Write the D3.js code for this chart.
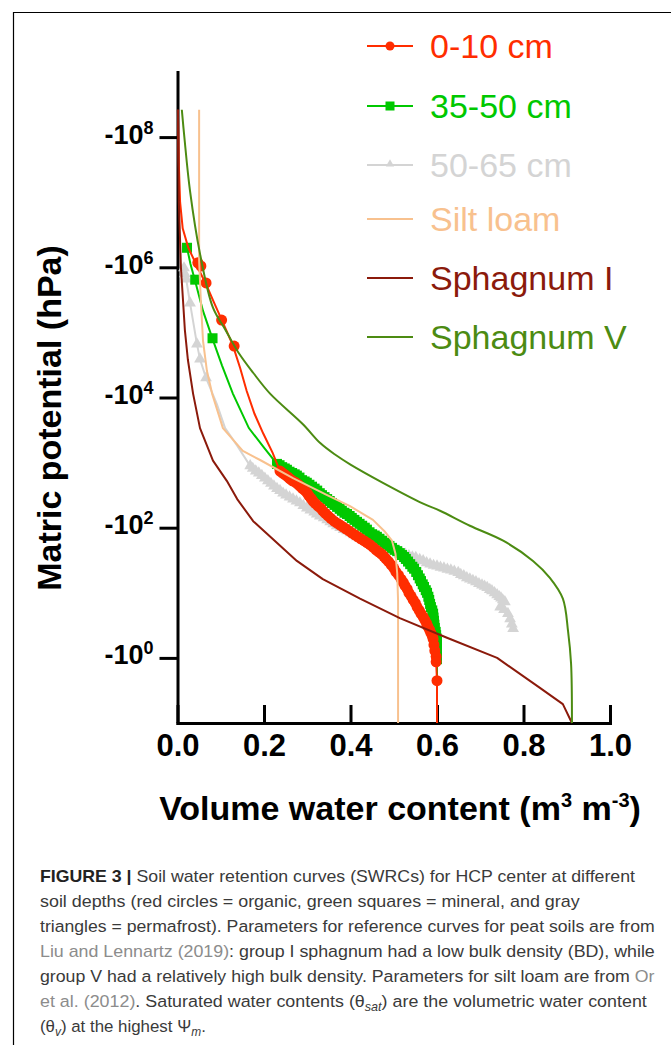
<!DOCTYPE html>
<html>
<head>
<meta charset="utf-8">
<script src="https://cdn.jsdelivr.net/npm/d3@7"></script>
<style>
  body { margin: 0; background: #fff; }
  svg { display: block; }
  text { font-family: "Liberation Sans", Arial, Helvetica, sans-serif; }
</style>
</head>
<body>
<svg id="chart" width="671" height="1045"></svg>
<script>
// values: [theta (m3 m-3), pF = log10 of suction in hPa]
const sphagnumI = [[0.001,8.42],[0.003,7.02],[0.008,5.99],[0.017,5.04],[0.024,4.58],[0.036,4.06],[0.052,3.53],[0.082,3.03],[0.114,2.72],[0.138,2.44],[0.175,2.10],[0.276,1.49],[0.336,1.21],[0.422,0.91],[0.514,0.61],[0.623,0.31],[0.739,0.00],[0.838,-0.46],[0.891,-0.71],[0.912,-1.00]];
const sphagnumV = [[0.010,8.42],[0.016,7.99],[0.029,7.17],[0.052,6.21],[0.082,5.38],[0.110,5.05],[0.140,4.70],[0.175,4.38],[0.214,4.06],[0.290,3.59],[0.330,3.30],[0.365,3.12],[0.400,2.97],[0.475,2.69],[0.568,2.37],[0.607,2.26],[0.676,2.03],[0.753,1.80],[0.822,1.49],[0.861,1.23],[0.891,0.91],[0.903,0.41],[0.910,-0.09],[0.912,-1.00]];
const siltLoam = [[0.050,8.42],[0.050,6.10],[0.054,5.48],[0.059,4.87],[0.068,4.41],[0.080,4.06],[0.105,3.53],[0.151,3.18],[0.191,3.04],[0.267,2.76],[0.346,2.50],[0.399,2.33],[0.452,2.12],[0.478,1.95],[0.496,1.80],[0.504,1.60],[0.508,1.30],[0.510,0.88],[0.510,-1.00]];

// 0-10 cm (organic)
const redFit = [[0.001,8.42],[0.003,7.60],[0.006,7.00],[0.012,6.60],[0.025,6.30],[0.045,6.02],[0.066,5.74],[0.085,5.45],[0.103,5.18],[0.128,4.80],[0.145,4.45],[0.160,4.10],[0.178,3.75],[0.198,3.45],[0.220,3.15],[0.237,2.87]];
const redTop = [[0.047,6.07],[0.054,6.02],[0.066,5.76],[0.102,5.19],[0.131,4.79]];
const redBand = [[0.237,2.87],[0.243,2.84],[0.249,2.81],[0.255,2.78],[0.260,2.75],[0.266,2.72],[0.272,2.70],[0.278,2.67],[0.283,2.64],[0.289,2.60],[0.295,2.57],[0.300,2.53],[0.304,2.49],[0.309,2.45],[0.313,2.41],[0.319,2.37],[0.325,2.33],[0.331,2.30],[0.336,2.26],[0.342,2.22],[0.348,2.18],[0.355,2.14],[0.362,2.10],[0.369,2.07],[0.376,2.04],[0.383,2.01],[0.390,1.98],[0.397,1.95],[0.403,1.92],[0.410,1.89],[0.417,1.86],[0.424,1.83],[0.431,1.80],[0.438,1.77],[0.445,1.74],[0.452,1.70],[0.459,1.66],[0.465,1.63],[0.471,1.60],[0.477,1.56],[0.482,1.52],[0.488,1.48],[0.494,1.43],[0.500,1.38],[0.505,1.32],[0.511,1.27],[0.517,1.21],[0.522,1.16],[0.526,1.11],[0.531,1.06],[0.535,1.00],[0.540,0.95],[0.545,0.89],[0.550,0.84],[0.554,0.78],[0.559,0.73],[0.563,0.68],[0.568,0.63],[0.572,0.58],[0.576,0.53],[0.579,0.48],[0.583,0.43],[0.586,0.38],[0.589,0.34],[0.591,0.29],[0.593,0.20],[0.595,0.11],[0.598,0.02],[0.598,-0.06],[0.600,-0.35]];
const redEnd = [[0.600,-1.00]];

// 35-50 cm (mineral)
const greenFit = [[0.022,6.30],[0.030,6.05],[0.040,5.81],[0.059,5.33],[0.080,4.92],[0.103,4.49],[0.128,4.06],[0.165,3.53],[0.200,3.23],[0.230,2.98]];
const greenTop = [[0.022,6.30],[0.041,5.81],[0.081,4.91]];
const greenBand = [[0.230,2.98],[0.236,2.96],[0.242,2.93],[0.248,2.91],[0.253,2.89],[0.259,2.86],[0.265,2.84],[0.271,2.82],[0.276,2.80],[0.282,2.77],[0.288,2.73],[0.294,2.71],[0.299,2.69],[0.305,2.66],[0.311,2.63],[0.317,2.60],[0.323,2.57],[0.329,2.53],[0.334,2.50],[0.340,2.47],[0.346,2.44],[0.352,2.41],[0.357,2.38],[0.363,2.35],[0.369,2.32],[0.375,2.29],[0.380,2.26],[0.386,2.23],[0.392,2.21],[0.398,2.18],[0.403,2.15],[0.409,2.12],[0.415,2.09],[0.421,2.06],[0.427,2.03],[0.433,2.00],[0.438,1.97],[0.444,1.93],[0.450,1.90],[0.456,1.88],[0.461,1.86],[0.467,1.83],[0.473,1.80],[0.479,1.77],[0.484,1.75],[0.490,1.72],[0.496,1.69],[0.502,1.66],[0.508,1.64],[0.514,1.61],[0.519,1.58],[0.524,1.55],[0.528,1.52],[0.533,1.48],[0.538,1.44],[0.543,1.40],[0.547,1.37],[0.552,1.32],[0.556,1.27],[0.560,1.22],[0.563,1.18],[0.567,1.13],[0.570,1.09],[0.574,1.04],[0.577,1.00],[0.580,0.94],[0.582,0.89],[0.584,0.83],[0.586,0.78],[0.589,0.73],[0.591,0.68],[0.592,0.62],[0.593,0.57],[0.594,0.51],[0.595,0.46],[0.597,0.40],[0.598,0.35],[0.599,0.30],[0.600,0.25],[0.600,0.19],[0.600,0.14],[0.600,0.06],[0.600,-0.02]];
const greenEnd = [[0.600,-1.00]];

// 50-65 cm (permafrost)
const grayTop = [[0.015,5.99],[0.017,5.90],[0.020,5.82],[0.029,5.45],[0.045,4.82],[0.052,4.59],[0.066,4.30]];
const grayFit = [[0.091,3.90],[0.110,3.53],[0.138,3.26]];
const grayBand = [[0.168,2.95],[0.174,2.91],[0.181,2.87],[0.188,2.84],[0.195,2.80],[0.202,2.76],[0.209,2.72],[0.216,2.68],[0.223,2.64],[0.230,2.60],[0.237,2.57],[0.244,2.53],[0.251,2.50],[0.259,2.47],[0.267,2.44],[0.275,2.41],[0.283,2.38],[0.291,2.34],[0.299,2.30],[0.307,2.27],[0.316,2.24],[0.322,2.21],[0.329,2.18],[0.338,2.15],[0.346,2.12],[0.353,2.09],[0.360,2.06],[0.368,2.03],[0.376,2.00],[0.384,1.97],[0.392,1.95],[0.400,1.92],[0.408,1.89],[0.415,1.86],[0.422,1.84],[0.430,1.82],[0.438,1.80],[0.446,1.77],[0.454,1.75],[0.462,1.73],[0.471,1.71],[0.479,1.69],[0.487,1.67],[0.495,1.65],[0.503,1.64],[0.511,1.62],[0.519,1.61],[0.527,1.59],[0.535,1.57],[0.543,1.55],[0.551,1.54],[0.560,1.51],[0.568,1.49],[0.576,1.46],[0.584,1.44],[0.592,1.42],[0.600,1.41],[0.608,1.39],[0.616,1.38],[0.624,1.36],[0.632,1.35],[0.640,1.33],[0.649,1.31],[0.655,1.28],[0.662,1.26],[0.669,1.23],[0.676,1.21],[0.683,1.19],[0.690,1.17],[0.697,1.14],[0.704,1.12],[0.710,1.10],[0.716,1.08],[0.722,1.05],[0.727,1.03],[0.733,1.00],[0.739,0.97],[0.744,0.94],[0.748,0.92],[0.752,0.89],[0.757,0.86],[0.746,0.78],[0.755,0.74],[0.764,0.68],[0.769,0.60],[0.773,0.52],[0.776,0.45]];

const xTicks = [0, 0.2, 0.4, 0.6, 0.8, 1.0];
const yTicks = [0, 2, 4, 6, 8];
const legendLabels = ['0-10 cm', '35-50 cm', '50-65 cm', 'Silt loam', 'Sphagnum I', 'Sphagnum V'];

// styles
const cRed = '#ff2d00', cGreen = '#00c800', cGray = '#d4d4d4',
      cSilt = '#f8c18e', cSphI = '#8b1a0b', cSphV = '#4c8b12';
const legendColors = [cRed, cGreen, cGray, cSilt, cSphI, cSphV];
const legendMarks = ['circle', 'square', 'triangle', null, null, null];

const svg = d3.select('#chart');

// page frame
svg.append('path').attr('d', 'M13.5,1045V12.5H671')
  .attr('fill', 'none').attr('stroke', '#000').attr('stroke-width', 1.2);

const x = d3.scaleLinear().domain([0, 1]).range([177.5, 610]);
const y = d3.scaleLinear().domain([-1, 9]).range([723, 72]);
const line = d3.line().x(d => x(d[0])).y(d => y(d[1]));
const smooth = d3.line().x(d => x(d[0])).y(d => y(d[1])).curve(d3.curveCatmullRom.alpha(0.5));

// axes
const gx = svg.append('g').attr('transform', `translate(0,${y(-1)})`)
  .call(d3.axisBottom(x).tickValues(xTicks).tickSizeInner(-18).tickSizeOuter(0)
    .tickPadding(11).tickFormat(d3.format('.1f')));
const gy = svg.append('g').attr('transform', `translate(${x(0)},0)`)
  .call(d3.axisLeft(y).tickValues(yTicks).tickSize(18).tickSizeOuter(0)
    .tickPadding(6).tickFormat(''));

[gx, gy].forEach(g => {
  g.select('.domain').attr('stroke-width', 3).attr('stroke-linecap', 'square');
  g.selectAll('.tick line').attr('stroke-width', 3);
  g.attr('font-family', null).attr('font-size', null);
});
gx.selectAll('.tick text').attr('font-size', 31).attr('font-weight', 'bold').attr('fill', '#000');
gy.selectAll('.tick text').attr('font-weight', 'bold').attr('fill', '#000').attr('dy', '0.38em')
  .each(function (d) {
    const t = d3.select(this);
    t.append('tspan').attr('font-size', 27).text('-10');
    t.append('tspan').attr('font-size', 18).attr('dy', -10).text(d);
  });

// 50-65 cm
svg.append('path').attr('d', line(grayTop.concat(grayFit, grayBand)))
  .attr('fill', 'none').attr('stroke', cGray).attr('stroke-width', 2).attr('stroke-linejoin', 'round');
svg.append('g').selectAll('path').data(grayTop.concat(grayBand)).join('path')
  .attr('d', d3.symbol(d3.symbolTriangle, 60))
  .attr('transform', d => `translate(${x(d[0])},${y(d[1])})`)
  .attr('fill', cGray);

// 35-50 cm
svg.append('path').attr('d', line(greenFit.concat(greenBand, greenEnd)))
  .attr('fill', 'none').attr('stroke', cGreen).attr('stroke-width', 2);
svg.append('g').selectAll('rect').data(greenTop.concat(greenBand)).join('rect')
  .attr('x', d => x(d[0]) - 5).attr('y', d => y(d[1]) - 5)
  .attr('width', 10).attr('height', 10).attr('fill', cGreen);

// 0-10 cm
svg.append('path').attr('d', line(redFit.concat(redBand, redEnd)))
  .attr('fill', 'none').attr('stroke', cRed).attr('stroke-width', 2);
svg.append('g').selectAll('circle').data(redTop.concat(redBand)).join('circle')
  .attr('cx', d => x(d[0])).attr('cy', d => y(d[1])).attr('r', 5.5).attr('fill', cRed);

// reference curves on top
svg.append('path').attr('d', line(siltLoam)).attr('fill', 'none')
  .attr('stroke', cSilt).attr('stroke-width', 2).attr('stroke-linejoin', 'round');
svg.append('path').attr('d', line(sphagnumI)).attr('fill', 'none')
  .attr('stroke', cSphI).attr('stroke-width', 2).attr('stroke-linejoin', 'round');
svg.append('path').attr('d', smooth(sphagnumV)).attr('fill', 'none')
  .attr('stroke', cSphV).attr('stroke-width', 2).attr('stroke-linejoin', 'round');

// axis titles
svg.append('text').attr('transform', 'translate(61,418) rotate(-90)')
  .attr('text-anchor', 'middle').attr('font-size', 34).attr('font-weight', 'bold')
  .text('Matric potential (hPa)');

const xt = svg.append('text').attr('x', 400).attr('y', 820).attr('text-anchor', 'middle')
  .attr('font-size', 34).attr('font-weight', 'bold');
xt.append('tspan').text('Volume water content (m');
xt.append('tspan').attr('font-size', 20).attr('dy', -13).text('3');
xt.append('tspan').attr('dy', 13).text(' m');
xt.append('tspan').attr('font-size', 20).attr('dy', -13).text('-3');
xt.append('tspan').attr('dy', 13).text(')');

// legend
const legendY = [46, 106, 165, 219, 278, 337];
const lg = svg.append('g');
legendLabels.forEach((lab, i) => {
  const row = lg.append('g').attr('transform', `translate(0,${legendY[i]})`);
  row.append('line').attr('x1', 367).attr('x2', 413).attr('stroke', legendColors[i]).attr('stroke-width', 2);
  if (legendMarks[i] === 'circle') row.append('circle').attr('cx', 390).attr('r', 4.5).attr('fill', legendColors[i]);
  if (legendMarks[i] === 'square') row.append('rect').attr('x', 385.5).attr('y', -4.5).attr('width', 9).attr('height', 9).attr('fill', legendColors[i]);
  if (legendMarks[i] === 'triangle') row.append('path').attr('d', d3.symbol(d3.symbolTriangle, 30)())
    .attr('transform', 'translate(390,-1)').attr('fill', legendColors[i]);
  row.append('text').attr('x', 430).attr('y', 12).attr('font-size', 34)
    .attr('fill', legendColors[i]).text(lab);
});

// caption
const captionLines = [
  [['FIGURE 3 |', 'b'], [' Soil water retention curves (SWRCs) for HCP center at different']],
  [['soil depths (red circles = organic, green squares = mineral, and gray']],
  [['triangles = permafrost). Parameters for reference curves for peat soils are from']],
  [['Liu and Lennartz (2019)', 'g'], [': group I sphagnum had a low bulk density (BD), while']],
  [['group V had a relatively high bulk density. Parameters for silt loam are from '], ['Or', 'g']],
  [['et al. (2012)', 'g'], ['. Saturated water contents (\u03b8'], ['sat', 's'], [') are the volumetric water content']],
  [['(\u03b8'], ['v', 's'], [') at the highest \u03a8'], ['m', 's'], ['.']]
];
const captionWidths = [595, 540, 615, 615, 615, 607, 166];
captionLines.forEach((segs, i) => {
  const g = svg.append('g');
  const t = g.append('text').attr('font-size', 17).attr('fill', '#3a3a3a');
  let shifted = false;
  segs.forEach(([s, k]) => {
    const ts = t.append('tspan').text(s);
    if (k === 'b') ts.attr('font-weight', 'bold').attr('fill', '#222');
    if (k === 'g') ts.attr('fill', '#8c8c8c');
    if (k === 's') { ts.attr('font-size', 12).attr('font-style', 'italic').attr('dy', 4); shifted = true; }
    else if (shifted) { ts.attr('dy', -4); shifted = false; }
  });
  const w = t.node().getComputedTextLength();
  g.attr('transform', `translate(40,${882 + i * 25}) scale(${captionWidths[i] / w},1)`);
});
</script>
</body>
</html>
